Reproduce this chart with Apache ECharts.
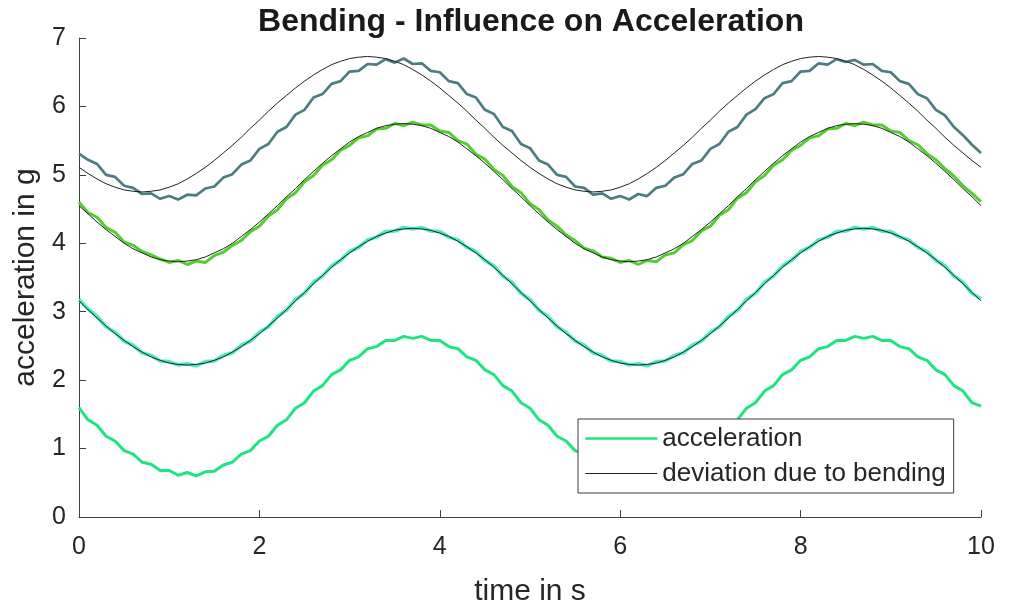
<!DOCTYPE html>
<html>
<head>
<meta charset="utf-8">
<script src="https://cdn.jsdelivr.net/npm/echarts@6/dist/echarts.min.js"></script>
<style>
html,body{margin:0;padding:0;background:#fff;}
#chart{width:1010px;height:606px;}
</style>
</head>
<body>
<div id="chart"></div>
<script>
// time in s
const time = [0,0.1,0.2,0.3,0.4,0.5,0.6,0.7,0.8,0.9,1,1.1,1.2,1.3,1.4,1.5,1.6,1.7,1.8,1.9,2,2.1,2.2,2.3,2.4,2.5,2.6,2.7,2.8,2.9,3,3.1,3.2,3.3,3.4,3.5,3.6,3.7,3.8,3.9,4,4.1,4.2,4.3,4.4,4.5,4.6,4.7,4.8,4.9,5,5.1,5.2,5.3,5.4,5.5,5.6,5.7,5.8,5.9,6,6.1,6.2,6.3,6.4,6.5,6.6,6.7,6.8,6.9,7,7.1,7.2,7.3,7.4,7.5,7.6,7.7,7.8,7.9,8,8.1,8.2,8.3,8.4,8.5,8.6,8.7,8.8,8.9,9,9.1,9.2,9.3,9.4,9.5,9.6,9.7,9.8,9.9,10];

// acceleration signals (g)
const accTop = [5.31,5.22,5.16,5.00,4.97,4.84,4.81,4.72,4.73,4.65,4.69,4.64,4.71,4.70,4.80,4.83,4.96,5.01,5.15,5.21,5.38,5.45,5.63,5.70,5.88,5.95,6.13,6.18,6.33,6.37,6.51,6.52,6.62,6.61,6.69,6.64,6.70,6.62,6.63,6.52,6.50,6.37,6.34,6.18,6.13,5.95,5.89,5.70,5.64,5.45,5.39,5.21,5.15,5.00,4.97,4.83,4.81,4.71,4.73,4.65,4.69,4.64,4.72,4.69,4.81,4.84,4.96,5.01,5.16,5.21,5.38,5.45,5.63,5.70,5.88,5.96,6.12,6.18,6.34,6.37,6.51,6.52,6.63,6.61,6.69,6.65,6.68,6.61,6.62,6.52,6.50,6.37,6.33,6.18,6.12,5.95,5.87,5.70,5.58,5.44,5.32];
const accUpper = [4.60,4.45,4.38,4.23,4.16,4.02,3.97,3.88,3.83,3.77,3.72,3.75,3.69,3.74,3.72,3.82,3.87,3.97,4.04,4.17,4.25,4.40,4.49,4.65,4.74,4.90,4.99,5.14,5.22,5.36,5.43,5.54,5.57,5.67,5.68,5.75,5.72,5.77,5.73,5.73,5.64,5.62,5.50,5.45,5.30,5.23,5.08,4.99,4.83,4.74,4.58,4.49,4.34,4.25,4.12,4.04,3.93,3.89,3.80,3.78,3.72,3.75,3.69,3.75,3.73,3.83,3.86,3.98,4.04,4.18,4.25,4.41,4.49,4.66,4.74,4.90,4.99,5.14,5.22,5.36,5.43,5.54,5.57,5.67,5.68,5.75,5.72,5.77,5.73,5.73,5.64,5.62,5.50,5.44,5.31,5.22,5.09,4.98,4.84,4.73,4.61];
const accMiddle = [3.18,3.04,2.93,2.78,2.70,2.57,2.51,2.40,2.36,2.28,2.27,2.22,2.24,2.21,2.27,2.28,2.36,2.40,2.51,2.57,2.70,2.78,2.93,3.02,3.18,3.27,3.43,3.52,3.67,3.75,3.88,3.94,4.05,4.09,4.17,4.18,4.23,4.21,4.23,4.18,4.17,4.09,4.05,3.94,3.88,3.75,3.67,3.52,3.43,3.27,3.18,3.02,2.93,2.78,2.70,2.57,2.51,2.40,2.36,2.28,2.27,2.22,2.24,2.21,2.27,2.28,2.36,2.40,2.51,2.57,2.70,2.78,2.93,3.02,3.18,3.27,3.43,3.52,3.67,3.75,3.88,3.94,4.05,4.09,4.17,4.18,4.23,4.21,4.23,4.18,4.17,4.09,4.05,3.94,3.88,3.75,3.67,3.52,3.43,3.27,3.19];
const accBottom = [1.60,1.42,1.34,1.18,1.11,0.97,0.92,0.80,0.77,0.68,0.68,0.61,0.65,0.60,0.66,0.67,0.76,0.80,0.92,0.97,1.11,1.18,1.34,1.42,1.59,1.67,1.84,1.92,2.08,2.15,2.29,2.34,2.46,2.49,2.58,2.58,2.64,2.61,2.64,2.58,2.58,2.49,2.46,2.34,2.29,2.15,2.08,1.92,1.84,1.67,1.59,1.42,1.34,1.18,1.11,0.97,0.92,0.80,0.77,0.68,0.68,0.61,0.65,0.60,0.66,0.67,0.76,0.80,0.92,0.97,1.11,1.18,1.34,1.42,1.59,1.67,1.84,1.92,2.08,2.15,2.29,2.34,2.46,2.49,2.58,2.58,2.64,2.61,2.64,2.58,2.58,2.49,2.46,2.34,2.29,2.15,2.08,1.92,1.84,1.67,1.62];

// deviation due to bending (g)
const devTop = [5.11,5.02,4.94,4.87,4.82,4.78,4.76,4.75,4.76,4.78,4.82,4.87,4.94,5.02,5.11,5.21,5.32,5.43,5.55,5.68,5.80,5.93,6.05,6.16,6.27,6.37,6.46,6.54,6.61,6.66,6.70,6.72,6.73,6.72,6.70,6.66,6.61,6.54,6.46,6.37,6.27,6.16,6.05,5.93,5.80,5.68,5.55,5.43,5.32,5.21,5.11,5.02,4.94,4.87,4.82,4.78,4.76,4.75,4.76,4.78,4.82,4.87,4.94,5.02,5.11,5.21,5.32,5.43,5.55,5.68,5.80,5.93,6.05,6.16,6.27,6.37,6.46,6.54,6.61,6.66,6.70,6.72,6.73,6.72,6.70,6.66,6.61,6.54,6.46,6.37,6.27,6.16,6.05,5.93,5.80,5.68,5.55,5.43,5.32,5.21,5.11];
const devUpper = [4.55,4.43,4.31,4.20,4.10,4.00,3.92,3.86,3.80,3.76,3.74,3.73,3.74,3.76,3.80,3.86,3.92,4.00,4.10,4.20,4.31,4.43,4.55,4.68,4.80,4.93,5.05,5.17,5.28,5.38,5.48,5.56,5.62,5.68,5.72,5.74,5.75,5.74,5.72,5.68,5.62,5.56,5.48,5.38,5.28,5.17,5.05,4.93,4.80,4.68,4.55,4.43,4.31,4.20,4.10,4.00,3.92,3.86,3.80,3.76,3.74,3.73,3.74,3.76,3.80,3.86,3.92,4.00,4.10,4.20,4.31,4.43,4.55,4.68,4.80,4.93,5.05,5.17,5.28,5.38,5.48,5.56,5.62,5.68,5.72,5.74,5.75,5.74,5.72,5.68,5.62,5.56,5.48,5.38,5.28,5.17,5.05,4.93,4.80,4.68,4.55];
const devMiddle = [3.16,3.03,2.91,2.79,2.68,2.58,2.49,2.41,2.34,2.29,2.25,2.23,2.22,2.23,2.25,2.29,2.34,2.41,2.49,2.58,2.68,2.79,2.91,3.03,3.16,3.28,3.41,3.53,3.65,3.76,3.86,3.95,4.03,4.10,4.15,4.19,4.21,4.22,4.21,4.19,4.15,4.10,4.03,3.95,3.86,3.76,3.65,3.53,3.41,3.28,3.16,3.03,2.91,2.79,2.68,2.58,2.49,2.41,2.34,2.29,2.25,2.23,2.22,2.23,2.25,2.29,2.34,2.41,2.49,2.58,2.68,2.79,2.91,3.03,3.16,3.28,3.41,3.53,3.65,3.76,3.86,3.95,4.03,4.10,4.15,4.19,4.21,4.22,4.21,4.19,4.15,4.10,4.03,3.95,3.86,3.76,3.65,3.53,3.41,3.28,3.16];

const xTicks = [0,2,4,6,8,10];
const yTicks = [0,1,2,3,4,5,6,7];

const FONT = '"Liberation Sans", Arial, sans-serif';
const TXT = '#262626';
const AX = '#404040';

function pairs(ys){ return time.map((t,i)=>[t,ys[i]]); }
function accSeries(name, ys, color, w){
  return {name:name, type:'line', data:pairs(ys), showSymbol:false, symbol:'none',
    lineStyle:{color:color, width:w}, itemStyle:{color:color}, z:2, animation:false};
}
function devSeries(ys){
  return {name:'deviation due to bending', type:'line', data:pairs(ys), showSymbol:false, symbol:'none',
    lineStyle:{color:'#222222', width:1}, itemStyle:{color:'#222222'}, z:3, animation:false};
}

const chart = echarts.init(document.getElementById('chart'), null, {renderer:'canvas'});
chart.setOption({
  backgroundColor:'#fff',
  animation:false,
  title:{text:'Bending - Influence on Acceleration', left:526, textAlign:'center', top:1,
    textStyle:{fontFamily:FONT, fontWeight:'bold', fontSize:32, color:'#1a1a1a'}},
  grid:{left:79, right:29, top:38, bottom:89, containLabel:false, outerBoundsMode:'none'},
  legend:{data:[
      {name:'acceleration', lineStyle:{width:2.6}},
      {name:'deviation due to bending', lineStyle:{width:1}}
    ], orient:'vertical', left:578, top:419,
    backgroundColor:'#fff', borderColor:AX, borderWidth:1, padding:[5,8,5,6], itemGap:6,
    itemWidth:72, itemHeight:14, selectedMode:false,
    itemStyle:{opacity:0},
    textStyle:{fontFamily:FONT, fontSize:26, color:TXT, lineHeight:29}},
  xAxis:{type:'value', min:0, max:10, interval:2, name:'time in s', nameLocation:'middle', nameGap:60,
    nameTextStyle:{fontFamily:FONT, fontSize:30, color:TXT},
    axisLine:{lineStyle:{color:AX, width:1}}, axisTick:{inside:true, length:7, lineStyle:{color:AX}},
    axisLabel:{fontFamily:FONT, fontSize:25, color:TXT, margin:18,
      formatter:function(v){return xTicks.indexOf(v)>=0?String(v):'';}},
    splitLine:{show:false}},
  yAxis:{type:'value', min:0, max:7, interval:1, name:'acceleration in g', nameLocation:'middle', nameGap:36,
    nameTextStyle:{fontFamily:FONT, fontSize:30, color:TXT},
    axisLine:{show:true, lineStyle:{color:AX, width:1}}, axisTick:{show:true, inside:true, length:7, lineStyle:{color:AX}},
    axisLabel:{fontFamily:FONT, fontSize:25, color:TXT, margin:13,
      formatter:function(v){return yTicks.indexOf(v)>=0?String(v):'';}},
    splitLine:{show:false}},
  series:[
    accSeries('acceleration', accBottom, '#1de680', 3),
    accSeries('acc middle', accMiddle, '#48ecc0', 3.6),
    accSeries('acc upper', accUpper, '#52cf2c', 3),
    accSeries('acc top', accTop, '#4d7d80', 2.7),
    devSeries(devMiddle),
    devSeries(devUpper),
    devSeries(devTop)
  ]
});
</script>
</body>
</html>
